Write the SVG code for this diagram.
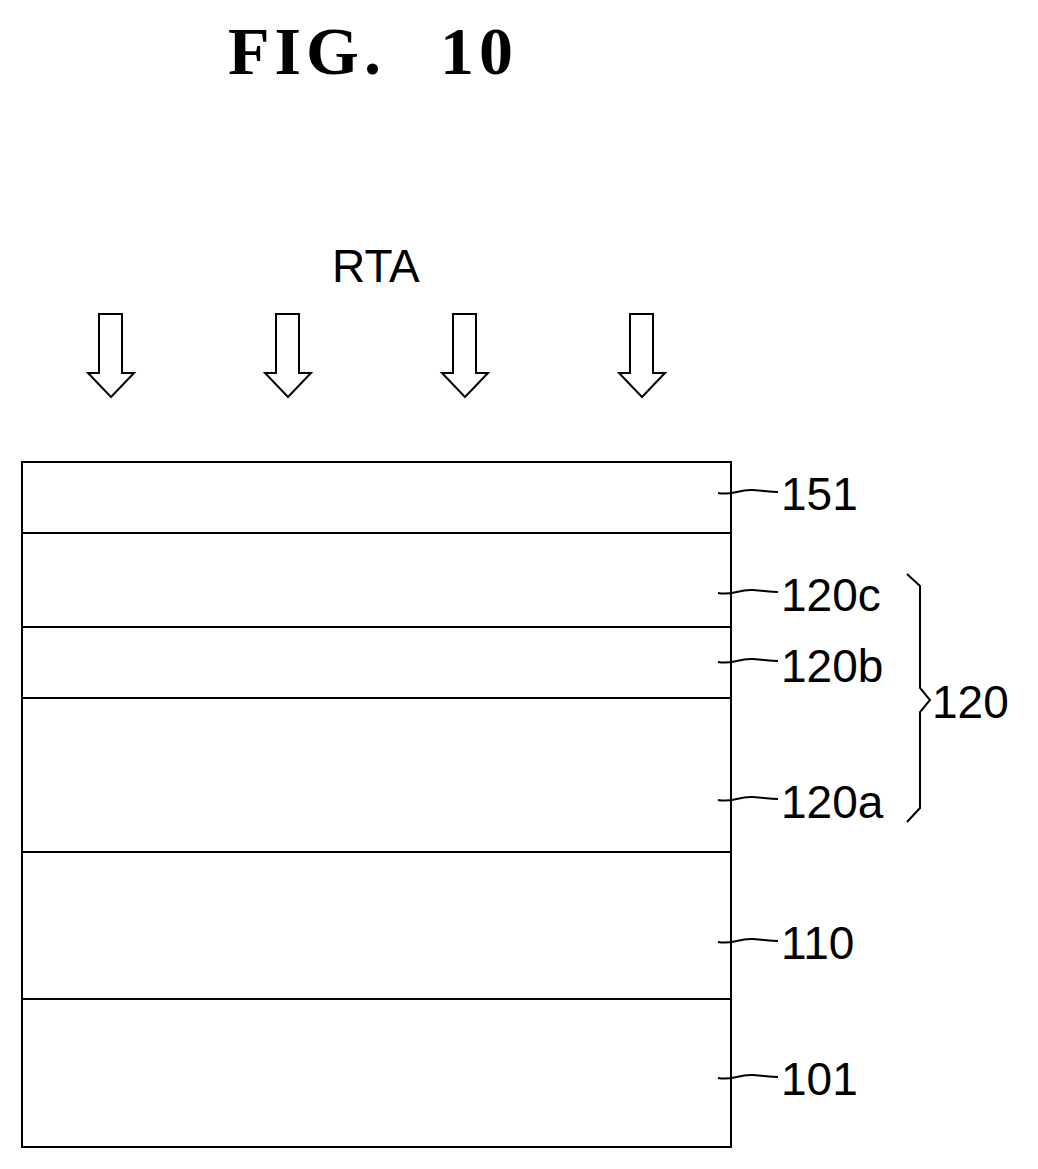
<svg xmlns="http://www.w3.org/2000/svg" width="1038" height="1169" viewBox="0 0 1038 1169">
<style>
.l{fill:none;stroke:#000;stroke-width:2}
.t{font-family:"Liberation Sans",Arial,sans-serif;font-size:46px;fill:#000}
.ti{font-family:"Liberation Serif","Times New Roman",serif;font-size:68px;fill:#000;font-weight:bold;letter-spacing:5px}
</style>
<defs>
<path id="ar" d="M-12,314 H11 V373 H23 L0,397 L-23,373 H-12 Z" class="l"/>
<path id="ld" d="M0,0 C15,3 20,-4 35,-3 S50,-1 60,-1" class="l"/>
</defs>
<rect width="1038" height="1169" fill="#fff"/>
<text x="228" y="74" class="ti">FIG.</text>
<text x="440" y="74" class="ti">10</text>
<text x="332" y="282" class="t">RTA</text>
<g id="arrows">
<use href="#ar" x="111"/><use href="#ar" x="288"/><use href="#ar" x="465"/><use href="#ar" x="642"/>
</g>
<g id="stack">
<rect x="22" y="462" width="709" height="685" class="l"/>
<line x1="22" y1="533" x2="731" y2="533" class="l"/>
<line x1="22" y1="627" x2="731" y2="627" class="l"/>
<line x1="22" y1="698" x2="731" y2="698" class="l"/>
<line x1="22" y1="852" x2="731" y2="852" class="l"/>
<line x1="22" y1="999" x2="731" y2="999" class="l"/>
</g>
<g id="connectors">
<use href="#ld" x="718" y="493"/>
<use href="#ld" x="718" y="593"/>
<use href="#ld" x="718" y="662"/>
<use href="#ld" x="718" y="800"/>
<use href="#ld" x="718" y="942"/>
<use href="#ld" x="718" y="1078"/>
<path d="M907,574 L920,586 V688 L930,700 L920,712 V808 L907,822" class="l"/>
</g>
<g id="labels">
<text x="781" y="510" class="t">151</text>
<text x="781" y="611" class="t">120c</text>
<text x="781" y="682" class="t">120b</text>
<text x="781" y="818" class="t">120a</text>
<text x="932" y="718" class="t">120</text>
<text x="781" y="959" class="t">110</text>
<text x="781" y="1095" class="t">101</text>
</g>
</svg>
